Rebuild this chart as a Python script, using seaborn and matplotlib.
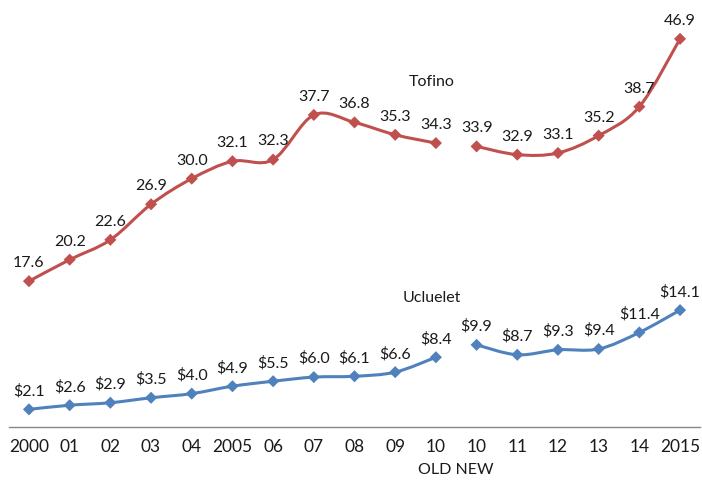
import numpy as np
import pandas as pd
import matplotlib
matplotlib.use('Agg')
import matplotlib.pyplot as plt
from matplotlib.path import Path
from matplotlib.patches import PathPatch
import seaborn as sns

sns.set_style('white')
plt.rcParams['font.family'] = ['Lato', 'DejaVu Sans']

# data
years = ['2000', '01', '02', '03', '04', '2005', '06', '07', '08', '09', '10',
         '10', '11', '12', '13', '14', '2015']
tofino = [17.6, 20.2, 22.6, 26.9, 30.0, 32.1, 32.3, 37.7, 36.8, 35.3, 34.3,
          33.9, 32.9, 33.1, 35.2, 38.7, 46.9]
ucluelet = [2.1, 2.6, 2.9, 3.5, 4.0, 4.9, 5.5, 6.0, 6.1, 6.6, 8.4,
            9.9, 8.7, 9.3, 9.4, 11.4, 14.1]
segment = ['old'] * 11 + ['new'] * 6

red = '#C0504D'
blue = '#4F81BD'

df = pd.concat([
    pd.DataFrame({'idx': range(len(years)), 'value': tofino, 'town': 'Tofino', 'seg': segment}),
    pd.DataFrame({'idx': range(len(years)), 'value': ucluelet, 'town': 'Ucluelet', 'seg': segment}),
])

fig = plt.figure(figsize=(7.02, 4.8), dpi=100)
ax = fig.add_axes([0.0123, 0.111, 0.9854, 0.889])


def smooth_path(x, y):
    # excel-like smoothed line: catmull-rom turned into bezier segments
    pts = np.column_stack([x, y]).astype(float)
    n = len(pts)
    verts = [pts[0]]
    codes = [Path.MOVETO]
    for i in range(n - 1):
        p0 = pts[max(i - 1, 0)]
        p1 = pts[i]
        p2 = pts[i + 1]
        p3 = pts[min(i + 2, n - 1)]
        verts += [p1 + (p2 - p0) / 6, p2 - (p3 - p1) / 6, p2]
        codes += [Path.CURVE4] * 3
    return Path(verts, codes)


for town, col in [('Tofino', red), ('Ucluelet', blue)]:
    for seg in ['old', 'new']:
        d = df[(df.town == town) & (df.seg == seg)]
        ax.add_patch(PathPatch(smooth_path(d.idx.values, d.value.values),
                               facecolor='none', edgecolor=col, lw=2.2,
                               capstyle='round', zorder=2))

sns.scatterplot(data=df, x='idx', y='value', hue='town', marker='D', s=38,
                palette={'Tofino': red, 'Ucluelet': blue}, edgecolor='none',
                legend=False, ax=ax, zorder=3)

for i, (t, u) in enumerate(zip(tofino, ucluelet)):
    ax.annotate(f'{t:.1f}', (i, t), xytext=(0, 8), textcoords='offset points',
                ha='center', va='bottom', fontsize=11.5, color='#1a1a1a')
    ax.annotate(f'${u:.1f}', (i, u), xytext=(0, 8), textcoords='offset points',
                ha='center', va='bottom', fontsize=11.5, color='#1a1a1a')

ax.text(9.9, 41.7, 'Tofino', ha='center', va='center', fontsize=11.5, color='#1a1a1a')
ax.text(9.9, 15.6, 'Ucluelet', ha='center', va='center', fontsize=11.5, color='#1a1a1a')

ax.set_xlim(-0.5, len(years) - 0.5)
ax.set_ylim(0, 51.6)
ax.set_xticks(range(len(years)))
ax.set_xticklabels(years, fontsize=12.5, color='#1a1a1a')
ax.set_xticks(np.arange(-0.5, len(years)), minor=True)
ax.tick_params(axis='x', which='major', length=0, pad=9)
ax.tick_params(axis='x', which='minor', length=6, width=1, color='#888888', direction='out')
ax.set_yticks([])
ax.set_xlabel('')
ax.set_ylabel('')
for side in ['left', 'right', 'top']:
    ax.spines[side].set_visible(False)
ax.spines['bottom'].set_color('#888888')
ax.spines['bottom'].set_linewidth(1)

ax.text(10.5, -0.085, 'OLD NEW', transform=ax.get_xaxis_transform(),
        ha='center', va='top', fontsize=11.5, color='#1a1a1a')

fig.savefig('out.png', dpi=100)
